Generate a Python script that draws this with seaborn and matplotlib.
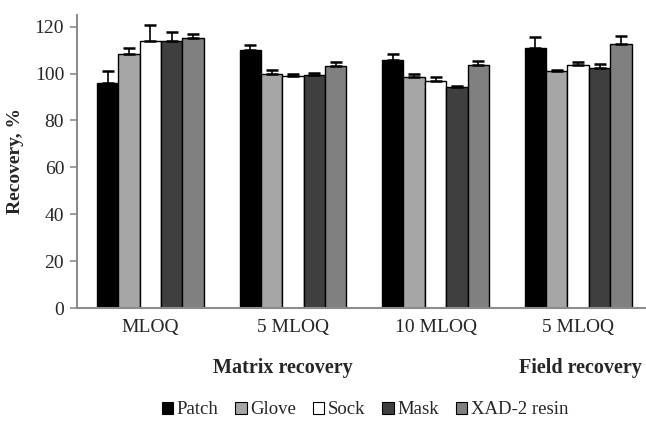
import pandas as pd
import numpy as np
import matplotlib
matplotlib.use("Agg")
import matplotlib.pyplot as plt
import seaborn as sns
from matplotlib.patches import Patch

# categories (unique keys) and their displayed tick labels
groups = ["M_MLOQ", "M_5MLOQ", "M_10MLOQ", "F_5MLOQ"]
tick_labels = ["MLOQ", "5 MLOQ", "10 MLOQ", "5 MLOQ"]
samplers = ["Patch", "Glove", "Sock", "Mask", "XAD-2 resin"]

# recovery (%) per sampler, one value per group
patch = [96.0, 110.1, 105.6, 111.0]
glove = [108.4, 100.0, 98.6, 101.3]
sock = [113.8, 98.8, 96.9, 103.6]
mask = [114.1, 99.3, 94.1, 102.4]
xad = [115.3, 103.1, 103.6, 112.7]

# upper error (SD)
patch_err = [5.3, 1.9, 2.9, 4.5]
glove_err = [2.6, 1.4, 1.4, 0.4]
sock_err = [6.8, 1.2, 1.7, 1.4]
mask_err = [3.7, 1.0, 0.8, 1.9]
xad_err = [1.6, 1.9, 1.7, 3.3]

colors = ["#000000", "#a6a6a6", "#ffffff", "#3f3f3f", "#808080"]

values = [patch, glove, sock, mask, xad]
errors = [patch_err, glove_err, sock_err, mask_err, xad_err]
rows = []
for s, vals, errs in zip(samplers, values, errors):
    for g, v, e in zip(groups, vals, errs):
        rows.append({"group": g, "sampler": s, "recovery": v, "err": e})
df = pd.DataFrame(rows)

sns.set_theme(style="white")
plt.rcParams["font.family"] = ["Liberation Serif", "DejaVu Serif"]

fig = plt.figure(figsize=(6.46, 4.21), dpi=100)
ax = fig.add_axes([0.1187, 0.2684, 0.8813, 0.696])

sns.barplot(data=df, x="group", y="recovery", hue="sampler", order=groups,
            hue_order=samplers, palette=colors, edgecolor="black",
            linewidth=1.0, width=0.75, errorbar=None, legend=False, ax=ax)

# upper-only error bars
for cont, s in zip(ax.containers, samplers):
    sub = df[df["sampler"] == s].set_index("group").loc[groups]
    xs = [b.get_x() + b.get_width() / 2 for b in cont]
    ys = [b.get_height() for b in cont]
    ax.errorbar(xs, ys, yerr=[np.zeros(len(xs)), sub["err"].values],
                fmt="none", ecolor="black", elinewidth=1.2, capsize=4,
                capthick=1.8, zorder=1)

ax.set_ylim(0, 125)
ax.set_xlim(-0.517, 3.476)
ax.set_yticks(range(0, 121, 20))
ax.set_xticks(range(4))
ax.set_xticklabels(tick_labels, fontsize=14)
ax.tick_params(axis="y", labelsize=14, length=5, width=1.2, color="#8c8c8c",
               direction="out", left=True, pad=4)
ax.tick_params(axis="x", length=0, pad=8)
for side in ["top", "right"]:
    ax.spines[side].set_visible(False)
for side in ["left", "bottom"]:
    ax.spines[side].set_color("#8c8c8c")
    ax.spines[side].set_linewidth(1.5)

ax.set_xlabel("")
ax.set_ylabel("Recovery, %", fontsize=14, fontweight="bold", labelpad=8)

fig.text(283 / 646, 1 - 368 / 421, "Matrix recovery", fontsize=14.5,
         fontweight="bold", ha="center", va="center")
fig.text(580 / 646, 1 - 368 / 421, "Field recovery", fontsize=14.5,
         fontweight="bold", ha="center", va="center")

handles = [Patch(facecolor=c, edgecolor="black", linewidth=0.8) for c in colors]
fig.legend(handles, samplers, loc="center", bbox_to_anchor=(365 / 646, 11 / 421),
           ncol=5, frameon=False, fontsize=13.5, handlelength=0.6,
           handleheight=0.6, handletextpad=0.2, columnspacing=0.9)

fig.savefig("out.png", dpi=100)
